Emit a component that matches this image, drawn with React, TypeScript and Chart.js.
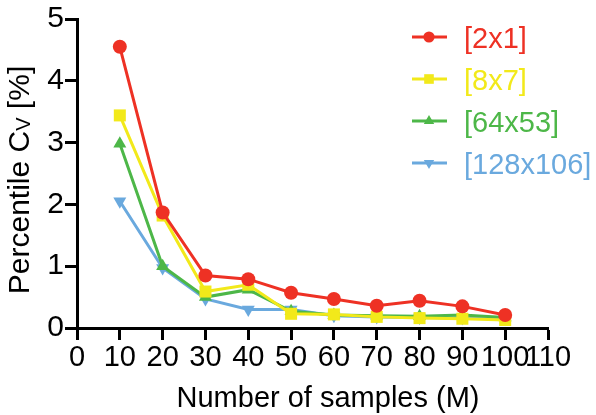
import React, { useEffect, useRef } from "react";
import { Chart, registerables } from "chart.js";
import { drawPoint } from "chart.js/helpers";

Chart.register(...registerables);

const xValues = [10, 20, 30, 40, 50, 60, 70, 80, 90, 100];
const series2x1 = [4.55, 1.87, 0.85, 0.79, 0.57, 0.47, 0.36, 0.44, 0.35, 0.21];
const series8x7 = [3.44, 1.82, 0.59, 0.7, 0.23, 0.22, 0.18, 0.16, 0.15, 0.13];
const series64x53 = [2.98, 1.0, 0.5, 0.62, 0.27, 0.21, 0.2, 0.19, 0.21, 0.17];
const series128x106 = [2.05, 0.97, 0.47, 0.3, 0.3, 0.2, 0.18, 0.17, 0.16, 0.15];
const seriesLabels = ["[2x1]", "[8x7]", "[64x53]", "[128x106]"];
const seriesColors = ["#EE3124", "#F2E91A", "#4DB748", "#6AA9DE"];
const seriesStyles = ["circle", "rect", "triangle", "triangle"];
const seriesRotations = [0, 0, 0, 180];
const seriesRadius = [7, 8.5, 7.5, 7.5];
const xTitle = "Number of samples (M)";
const yTitleMain = "Percentile C";
const yTitleSub = "V";
const yTitleTail = " [%]";

const FONT = "'Liberation Sans', Arial, Helvetica, sans-serif";

const overlayPlugin = {
  id: "overlay",
  afterDraw(chart: any) {
    const ctx = chart.ctx;
    // legend
    ctx.save();
    const rowY = [37, 79, 121, 163];
    seriesLabels.forEach((lab, i) => {
      const y = rowY[i];
      ctx.strokeStyle = seriesColors[i];
      ctx.lineWidth = 3;
      ctx.beginPath();
      ctx.moveTo(412, y);
      ctx.lineTo(447, y);
      ctx.stroke();
      ctx.fillStyle = seriesColors[i];
      drawPoint(
        ctx,
        {
          pointStyle: seriesStyles[i],
          radius: seriesRadius[i] * 0.8,
          rotation: seriesRotations[i],
          borderWidth: 0,
        },
        429,
        y
      );
      ctx.fillStyle = seriesColors[i];
      ctx.font = `29px ${FONT}`;
      ctx.textBaseline = "middle";
      ctx.textAlign = "left";
      ctx.fillText(lab, 464, y + 3);
    });
    ctx.restore();

    // x title
    ctx.save();
    ctx.fillStyle = "#000";
    ctx.font = `29px ${FONT}`;
    ctx.textAlign = "center";
    ctx.textBaseline = "alphabetic";
    ctx.fillText(xTitle, 328, 407);
    ctx.restore();

    // y title with subscript
    ctx.save();
    ctx.fillStyle = "#000";
    ctx.textBaseline = "alphabetic";
    ctx.textAlign = "left";
    const mainFont = `30px ${FONT}`;
    const subFont = `20px ${FONT}`;
    ctx.font = mainFont;
    const w1 = ctx.measureText(yTitleMain).width;
    const w3 = ctx.measureText(yTitleTail).width;
    ctx.font = subFont;
    const w2 = ctx.measureText(yTitleSub).width;
    const total = w1 + w2 + w3;
    const cy = 180;
    ctx.translate(29, cy);
    ctx.rotate(-Math.PI / 2);
    let x0 = -total / 2;
    ctx.font = mainFont;
    ctx.fillText(yTitleMain, x0, 0);
    x0 += w1;
    ctx.font = subFont;
    ctx.fillText(yTitleSub, x0, 1);
    x0 += w2;
    ctx.font = mainFont;
    ctx.fillText(yTitleTail, x0, 0);
    ctx.restore();
  },
};

export default function App() {
  const ref = useRef<HTMLCanvasElement>(null);
  useEffect(() => {
    document.body.style.margin = "0";
    const seriesData = [series2x1, series8x7, series64x53, series128x106];
    const chart = new Chart(ref.current as HTMLCanvasElement, {
      type: "line",
      data: {
        datasets: seriesData.map((vals, i) => ({
          label: seriesLabels[i],
          data: xValues.map((x, j) => ({ x, y: vals[j] })),
          borderColor: seriesColors[i],
          backgroundColor: seriesColors[i],
          pointBackgroundColor: seriesColors[i],
          pointBorderColor: seriesColors[i],
          pointStyle: seriesStyles[i] as any,
          pointRotation: seriesRotations[i],
          pointRadius: seriesRadius[i],
          pointBorderWidth: 0,
          borderWidth: 3,
          tension: 0,
          fill: false,
          clip: false as any,
        })),
      },
      options: {
        responsive: false,
        animation: false,
        layout: { padding: { top: 15, right: 48, left: 0, bottom: 0 } },
        plugins: {
          legend: { display: false },
          tooltip: { enabled: false },
        },
        scales: {
          x: {
            type: "linear",
            min: 0,
            max: 110,
            afterFit: (s: any) => {
              s.height = 87;
            },
            border: { color: "#000", width: 3 },
            grid: {
              drawOnChartArea: false,
              drawTicks: true,
              tickLength: 12,
              tickWidth: 3,
              tickColor: "#000",
            },
            ticks: {
              stepSize: 10,
              color: "#000",
              padding: 1,
              maxRotation: 0,
              autoSkip: false,
              font: { family: FONT, size: 29 },
            },
            title: { display: false },
          },
          y: {
            type: "linear",
            min: 0,
            max: 5,
            afterFit: (s: any) => {
              s.width = 77;
            },
            border: { color: "#000", width: 3 },
            grid: {
              drawOnChartArea: false,
              drawTicks: true,
              tickLength: 12,
              tickWidth: 3,
              tickColor: "#000",
            },
            ticks: {
              stepSize: 1,
              color: "#000",
              padding: 1,
              font: { family: FONT, size: 30 },
            },
          },
        },
      },
      plugins: [overlayPlugin],
    });
    return () => chart.destroy();
  }, []);
  return (
    <div style={{ width: 596, height: 415 }}>
      <canvas ref={ref} width={596} height={415} />
    </div>
  );
}
